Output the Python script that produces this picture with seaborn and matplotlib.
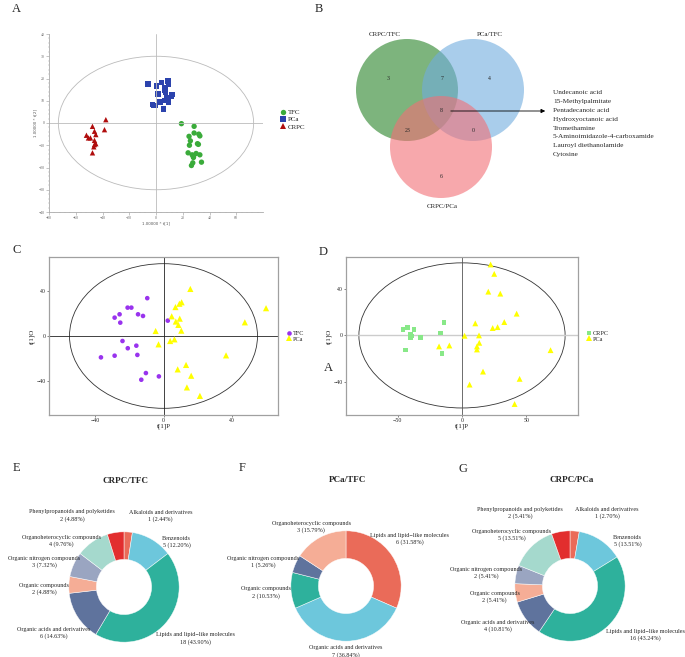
import numpy as np
import pandas as pd
import matplotlib
matplotlib.use("Agg")
import matplotlib.pyplot as plt
from matplotlib.patches import Ellipse, Circle
import seaborn as sns

# ---------------- data ----------------
# A: PCA score plot (TFC / PCa / CRPC)
a_tfc_x = [19, 28.5, 28.5, 24.7, 32, 32.8, 25.7, 25, 31, 31.7, 24, 27, 28, 30, 32.8, 27.5, 26.5, 34, 28]
a_tfc_y = [-0.3, -1.5, -4.5, -6, -5, -5.8, -8, -10, -9.3, -9.6, -13.4, -14.3, -15.2, -13.7, -14.3, -17.9, -19.1, -17.6, -15.5]
a_pca_x = [-6, 0.5, 4.3, 9, 9.2, 6.2, 6.8, 7.2, 1.5, 12, 11.8, 8.2, 6.5, 9.5, 3, -2.7, -0.5, -1.5, 5.5]
a_pca_y = [17.6, 16.6, 18.2, 18.8, 17.3, 15.7, 14.9, 13.7, 13, 12.8, 11.9, 11.3, 10.1, 9.4, 9.4, 8.2, 7.8, 7.8, 6.3]
a_crpc_x = [-47.5, -37.5, -38.5, -52, -50.5, -49, -46, -45, -46, -45, -46, -46.5, -47.5]
a_crpc_y = [-1.5, 1.5, -3, -5.5, -6.7, -6.7, -3.7, -5.2, -7.8, -9.3, -9.7, -10.7, -13.4]

# B: Venn counts
venn_sets = ["CRPC/TFC", "PCa/TFC", "CRPC/PCa"]
venn_counts = {"100": 3, "010": 4, "001": 6, "110": 7, "101": 23, "011": 0, "111": 8}
shared = ["Undecanoic acid", "15-Methylpalmitate", "Pentadecanoic acid", "Hydroxyoctanoic acid",
          "Tromethamine", "5-Aminoimidazole-4-carboxamide", "Lauroyl diethanolamide", "Cytosine"]

# C: OPLS-DA TFC vs PCa
c_tfc_x = [-9.5, -21, -18.8, -25.7, -28.6, -25.3, -14.9, -12, 2.5, -24, -20.9, -15.9, -15.3, -28.6, -36.6, -10.3, -13, -2.7]
c_tfc_y = [34, 25.5, 25.5, 19.5, 16.5, 12, 19.5, 18, 13.8, -4.5, -11, -8.7, -17, -17.7, -19.2, -33.3, -39.3, -36.3]
c_pca_x = [15.7, 10.6, 9.3, 7, 60, 4.8, 9.5, 7.2, 8.7, 10.4, -4.6, 47.6, -2.9, 3.9, 6.4, 36.6, 13.2, 8.3, 16.2, 13.7, 21.3]
c_pca_y = [42.3, 30.3, 29, 26, 25, 17.7, 15.6, 13, 10, 4.8, 4.5, 12.3, -7.5, -4.5, -3, -17.4, -26, -30, -35.7, -46.2, -53.8]

# D: OPLS-DA CRPC vs PCa
d_crpc_x = [-45.7, -42.4, -37.2, -40, -40, -32, -39.3, -14, -16.8, -44, -15.5]
d_crpc_y = [5.1, 6.9, 4.9, 0.9, -2, -2, -0.6, 10.9, 2, -12.6, -15.7]
d_pca_x = [22.2, 25, 20.4, 29.7, 42.4, 32.8, 10.3, 23.8, 27.6, 2, 13.2, 13.4, 11.6, 11.6, -17.8, -9.8, 68.7, 16.3, 44.7, 5.9, 40.8]
d_pca_y = [60.6, 52.6, 37.4, 35.7, 18.6, 11.4, 10.3, 6.3, 7.1, -0.3, 0, -6.3, -9.4, -12, -9.4, -8.6, -12.6, -30.9, -37.1, -42, -58.6]

# E-G: compound classes
LIP = "Lipids and lipid\u2212like molecules"
e_names = ["Alkaloids and derivatives", "Benzenoids", LIP, "Organic acids and derivatives",
           "Organic compounds", "Organic nitrogen compounds", "Organoheterocyclic compounds",
           "Phenylpropanoids and polyketides"]
e_counts = [1, 5, 18, 6, 2, 3, 4, 2]
f_names = [LIP, "Organic acids and derivatives", "Organic compounds",
           "Organic nitrogen compounds", "Organoheterocyclic compounds"]
f_counts = [6, 7, 2, 1, 3]
g_names = e_names
g_counts = [1, 5, 16, 4, 2, 2, 5, 2]

npg = ["#E64B35", "#4DBBD5", "#00A087", "#3C5488", "#F39B7F", "#8491B4", "#91D1C2", "#DC0000"]

# label nudges (in donut radii) so labels don't collide
e_nudge = {0: (0.55, -0.16), 1: (0.21, -0.43), 2: (0.21, 0.03), 3: (-0.05, -0.05),
           4: (0, -0.09), 5: (-0.12, -0.14), 6: (-0.30, -0.35), 7: (-0.72, -0.14)}
f_nudge = {0: (-0.06, 0.06), 1: (0, 0.26), 2: (0, 0), 3: (-0.17, -0.15), 4: (0.06, -0.2)}
g_nudge = {0: (0.55, -0.12), 1: (0.23, -0.39), 2: (0.37, 0.16), 3: (-0.14, 0.14),
           4: (0.07, -0.02), 5: (-0.10, -0.07), 6: (-0.06, -0.12), 7: (-0.66, -0.10)}

# ---------------- figure ----------------
sns.set_theme(style="white")
plt.rcParams['font.family'] = ['Liberation Serif', 'DejaVu Sans']
plt.rcParams['axes.unicode_minus'] = True

W, H = 685, 657
fig = plt.figure(figsize=(W / 100, H / 100), dpi=100)


def box(l, t, r, b):
    return [l / W, 1 - b / H, (r - l) / W, (b - t) / H]


def ftext(x, y, s, **kw):
    fig.text(x / W, 1 - y / H, s, **kw)


def make_df(groups):
    frames = []
    for name, xs, ys in groups:
        frames.append(pd.DataFrame({"x": xs, "y": ys, "group": name}))
    return pd.concat(frames, ignore_index=True)


# ---- A ----
axA = fig.add_axes(box(49, 34, 263, 212))
dfA = make_df([("TFC", a_tfc_x, a_tfc_y), ("PCa", a_pca_x, a_pca_y), ("CRPC", a_crpc_x, a_crpc_y)])
axA.add_patch(Ellipse((0, 0), 146, 60, fill=False, ec="#bbbbbb", lw=0.6))
axA.axhline(0, color="#bbbbbb", lw=0.6)
axA.axvline(0, color="#bbbbbb", lw=0.6)
sns.scatterplot(data=dfA, x="x", y="y", hue="group", style="group",
                palette={"TFC": "#3aab3a", "PCa": "#2c43ad", "CRPC": "#b00d0d"},
                markers={"TFC": "o", "PCa": "s", "CRPC": "^"}, s=15, linewidth=0, ax=axA)
axA.set_xlim(-80, 80)
axA.set_ylim(-40, 40)
axA.set_xticks(range(-80, 61, 20))
axA.set_yticks(range(-40, 41, 10))
axA.set_xticks(np.arange(-80, 80, 4), minor=True)
axA.set_yticks(np.arange(-40, 41, 2), minor=True)
axA.tick_params(axis="both", which="major", labelsize=2.8, labelcolor="#666666", length=2,
                width=0.4, color="#999999", direction="out", bottom=True, left=True, pad=1)
axA.tick_params(axis="both", which="minor", length=1, width=0.3, color="#999999", bottom=True, left=True)
for s in ["top", "right"]:
    axA.spines[s].set_visible(False)
for s in ["left", "bottom"]:
    axA.spines[s].set_color("#aaaaaa")
    axA.spines[s].set_linewidth(0.6)
axA.set_xlabel("1.00000 * t[1]", fontsize=2.8, color="#555555", labelpad=1, family="DejaVu Sans")
axA.set_ylabel("1.00000 * t[2]", fontsize=2.8, color="#555555", labelpad=1, family="DejaVu Sans")
sns.move_legend(axA, "center left", bbox_to_anchor=(1.06, 0.52), frameon=False, title=None,
                fontsize=5, handletextpad=0.2, labelspacing=0.2, borderpad=0, handlelength=1)

# ---- B: Venn ----
axB = fig.add_axes(box(340, 20, 685, 230))
axB.set_xlim(340, 685)
axB.set_ylim(230, 20)
axB.axis("off")
centers = [(407, 90), (473, 90), (441, 147)]
vcolors = ["#268226", "#70acde", "#f26e75"]
for (cx, cy), col in zip(centers, vcolors):
    axB.add_patch(Circle((cx, cy), 51, color=col, alpha=0.6, lw=0))
label_pos = [(385, 34), (490, 34), (442, 207)]
for (lx, ly), name in zip(label_pos, venn_sets):
    axB.text(lx, ly, name, ha="center", va="center", fontsize=5)
region_pos = {"100": (388, 79), "010": (489, 79), "001": (441, 176), "110": (442, 79),
              "101": (408, 130), "011": (473, 130), "111": (441, 111)}
for k, v in venn_counts.items():
    axB.text(*region_pos[k], str(v), ha="center", va="center", fontsize=4.2)
axB.annotate("", xy=(548, 111), xytext=(448, 111),
             arrowprops=dict(arrowstyle="-|>", color="black", lw=0.6, mutation_scale=6))
for i, s in enumerate(shared):
    axB.text(553, 93 + i * 8.8, s, ha="left", va="center", fontsize=5.2)


# ---- C / D ----
def opls(ax, df, pal, marks, sizes, xlim, ylim, ell, xt, yt, hline_col, vline_col, leg_x):
    ax.add_patch(Ellipse((0, 0), ell[0], ell[1], fill=False, ec="#333333", lw=0.6))
    ax.axhline(0, color=hline_col[0], lw=hline_col[1], zorder=1)
    ax.axvline(0, color=vline_col[0], lw=vline_col[1], zorder=1)
    sns.scatterplot(data=df, x="x", y="y", hue="group", style="group", palette=pal, markers=marks,
                    size="group", sizes=sizes, linewidth=0, ax=ax, zorder=3)
    ax.set_xlim(*xlim)
    ax.set_ylim(*ylim)
    ax.set_xticks(xt)
    ax.set_yticks(yt)
    ax.tick_params(labelsize=4.2, length=1.5, width=0.4, pad=1, bottom=True, left=True)
    for s in ax.spines.values():
        s.set_color("#a0a0a0")
        s.set_linewidth(0.9)
    ax.set_xlabel("t[1]P", fontsize=5, labelpad=0)
    ax.set_ylabel("t[1]O", fontsize=5, labelpad=1)
    sns.move_legend(ax, "center left", bbox_to_anchor=(leg_x, 0.5), frameon=False, title=None,
                    fontsize=4.5, handletextpad=0.1, labelspacing=0.05, borderpad=0, handlelength=1)


axC = fig.add_axes(box(49, 257, 278, 415))
dfC = make_df([("TFC", c_tfc_x, c_tfc_y), ("PCa", c_pca_x, c_pca_y)])
opls(axC, dfC, {"TFC": "#9933ee", "PCa": "#ffff00"}, {"TFC": "o", "PCa": "^"},
     {"TFC": 11, "PCa": 20}, (-67, 67), (-71, 71), (110, 130), [-40, 0, 40], [-40, 0, 40],
     ("#222222", 0.6), ("#222222", 0.6), 1.02)

axD = fig.add_axes(box(346, 257, 578, 415))
dfD = make_df([("CRPC", d_crpc_x, d_crpc_y), ("PCa", d_pca_x, d_pca_y)])
opls(axD, dfD, {"CRPC": "#88e888", "PCa": "#ffff00"}, {"CRPC": "s", "PCa": "^"},
     {"CRPC": 11, "PCa": 18}, (-90, 90), (-68, 67), (160, 124), [-50, 0, 50], [-40, 0, 40],
     ("#cccccc", 1.0), ("#555555", 0.6), 1.02)


# ---- E / F / G donuts ----
def donut(cx, cy, names, counts, title, nudge):
    ax = fig.add_axes(box(cx - 80, cy - 80, cx + 80, cy + 80))
    total = sum(counts)
    wedges, _ = ax.pie(counts, colors=npg[:len(counts)], startangle=90, counterclock=False,
                       radius=1, wedgeprops=dict(width=0.5, edgecolor="white", linewidth=0.4, alpha=0.82))
    for i, (w, n, c) in enumerate(zip(wedges, names, counts)):
        mid = np.deg2rad((w.theta1 + w.theta2) / 2)
        dx, dy = nudge.get(i, (0, 0))
        x = 1.45 * np.cos(mid) + dx
        y = 1.45 * np.sin(mid) + dy
        ax.text(x, y, f"{n}\n{c} ({c / total * 100:.2f}%)", ha="center", va="center",
                fontsize=4.4, linespacing=1.35)
    ax.set_xlim(-1.45, 1.45)
    ax.set_ylim(-1.45, 1.45)
    ax.set_aspect("equal")
    ax.axis("off")
    ftext(cx + 2, cy - 106, title, ha="center", va="center", fontsize=6.5, fontweight="bold")


donut(124, 587, e_names, e_counts, "CRPC/TFC", e_nudge)
donut(346, 586, f_names, f_counts, "PCa/TFC", f_nudge)
donut(570, 586, g_names, g_counts, "CRPC/PCa", g_nudge)

# panel letters
for lab, x, y in [("A", 16, 9), ("B", 319, 9), ("C", 17, 250), ("D", 323, 252),
                  ("E", 16, 468), ("F", 242, 468), ("G", 463, 469), ("A", 328, 368)]:
    ftext(x, y, lab, ha="center", va="center", fontsize=9)

fig.savefig("out.png", dpi=100)
